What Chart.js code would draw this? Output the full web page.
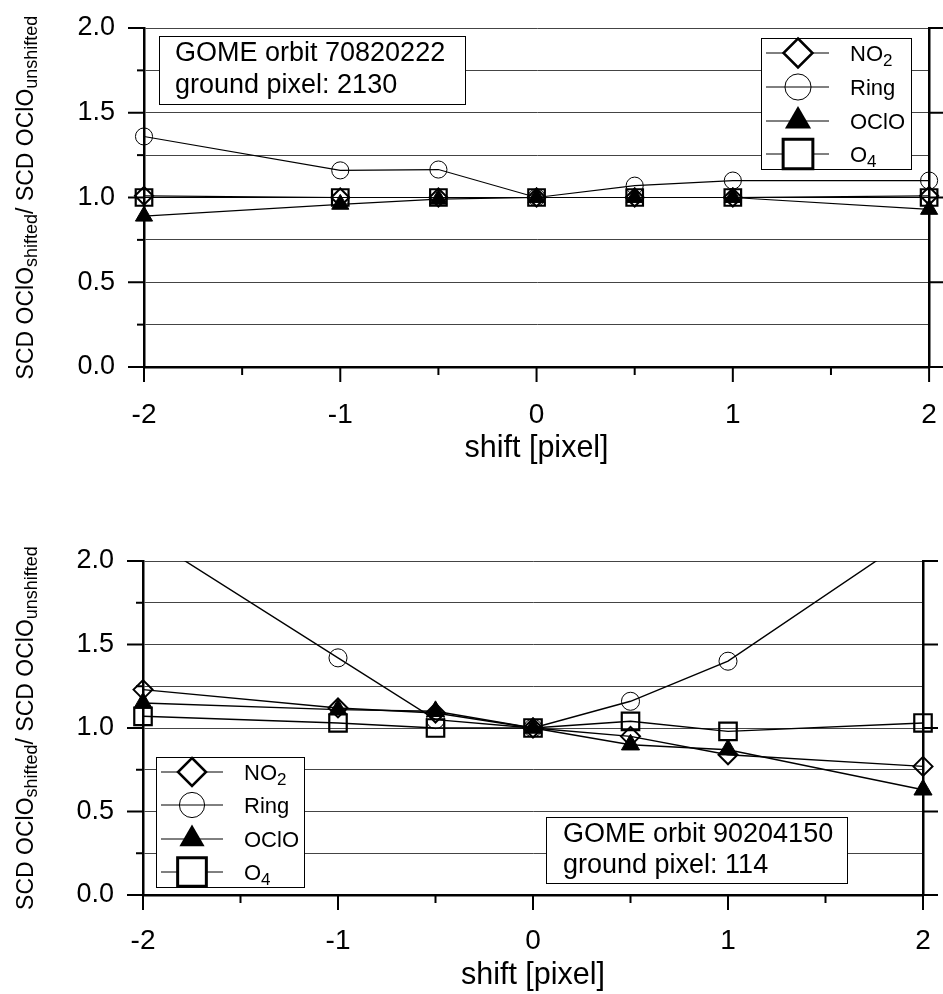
<!DOCTYPE html>
<html>
<head>
<meta charset="utf-8">
<script src="https://cdn.jsdelivr.net/npm/chart.js@4.4.1/dist/chart.umd.min.js"></script>
<style>
  html, body { margin: 0; padding: 0; background: #fff; }
  canvas { position: absolute; left: 0; }
  #topChart { top: 0; }
  #bottomChart { top: 470px; }
</style>
</head>
<body>
<canvas id="topChart" width="943" height="470"></canvas>
<canvas id="bottomChart" width="943" height="524"></canvas>
<script>
// shift of the spectrum in detector pixels
const shifts = [-2, -1, -0.5, 0, 0.5, 1, 2];

// tick positions / labels
const xMajor = [-2, -1, 0, 1, 2];
const xMinor = [-1.5, -0.5, 0.5, 1.5];
const yMajor = [0, 0.5, 1, 1.5, 2];
const yMinor = [0.25, 0.75, 1.25, 1.75];

// orbit 70820222, ground pixel 2130
const no2Top  = [1.01, 1.00, 1.00, 1.00, 1.00, 1.00, 1.01];
const ringTop = [1.36, 1.16, 1.165, 1.00, 1.07, 1.10, 1.10];
const ocloTop = [0.89, 0.96, 0.99, 1.00, 1.00, 1.00, 0.93];
const o4Top   = [1.00, 1.00, 1.00, 1.00, 1.00, 1.00, 1.00];

// orbit 90204150, ground pixel 114
const no2Bot  = [1.23, 1.12, 1.09, 1.00, 0.95, 0.84, 0.77];
const ringBot = [2.16, 1.42, 1.05, 1.00, 1.16, 1.40, 2.19];
const ocloBot = [1.15, 1.11, 1.10, 1.00, 0.90, 0.87, 0.63];
const o4Bot   = [1.07, 1.03, 1.00, 1.00, 1.04, 0.98, 1.03];

const FONT = "'Liberation Sans', Arial, Helvetica, sans-serif";
const CLEAR = 'rgba(0,0,0,0)';

function markerPath(ctx, style, x, y, r) {
  ctx.beginPath();
  if (style === 'rectRot') {
    ctx.moveTo(x, y - r); ctx.lineTo(x + r, y); ctx.lineTo(x, y + r); ctx.lineTo(x - r, y);
    ctx.closePath();
  } else if (style === 'circle') {
    ctx.arc(x, y, r, 0, Math.PI * 2);
  } else if (style === 'triangle') {
    ctx.moveTo(x, y - r);
    ctx.lineTo(x + r * 0.866, y + r / 2);
    ctx.lineTo(x - r * 0.866, y + r / 2);
    ctx.closePath();
  } else {
    const h = r * Math.SQRT1_2;
    ctx.rect(x - h, y - h, 2 * h, 2 * h);
  }
}

// text pieces: [string, isSubscript]
function drawPieces(ctx, pieces, x, y, size, subSize, subDrop) {
  let cx = x;
  for (const [s, sub] of pieces) {
    ctx.font = (sub ? subSize : size) + 'px ' + FONT;
    ctx.fillText(s, cx, y + (sub ? subDrop : 0));
    cx += ctx.measureText(s).width;
  }
  return cx - x;
}
function piecesWidth(ctx, pieces, size, subSize) {
  let w = 0;
  for (const [s, sub] of pieces) {
    ctx.font = (sub ? subSize : size) + 'px ' + FONT;
    w += ctx.measureText(s).width;
  }
  return w;
}

const yTitle = [['SCD OClO', false], ['shifted', true], ['/ SCD OClO', false], ['unshifted', true]];
const legendRows = [
  { text: [['NO', false], ['2', true]], style: 'rectRot', fill: '#fff', lw: 2.5, k: 1.0 },
  { text: [['Ring', false]], style: 'circle', fill: null, lw: 1, k: 0.9 },
  { text: [['OClO', false]], style: 'triangle', fill: '#000', lw: 1, k: 1.04 },
  { text: [['O', false], ['4', true]], style: 'rect', fill: '#fff', lw: 3, k: 1.45 }
];

const decorations = {
  id: 'decorations',
  afterDraw(chart, args, o) {
    const { ctx, chartArea: a, scales: { x, y } } = chart;
    ctx.save();
    ctx.strokeStyle = '#000';
    ctx.fillStyle = '#000';

    // axis tick marks
    ctx.lineWidth = 2;
    const line = (x1, y1, x2, y2) => { ctx.beginPath(); ctx.moveTo(x1, y1); ctx.lineTo(x2, y2); ctx.stroke(); };
    yMajor.forEach(v => {
      const py = y.getPixelForValue(v);
      line(a.left - 16, py, a.left, py);
      line(a.right, py, a.right + 15, py);
    });
    yMinor.forEach(v => {
      const py = y.getPixelForValue(v);
      line(a.left - 7, py, a.left, py);
    });
    xMajor.forEach(v => {
      const px = x.getPixelForValue(v);
      line(px, a.bottom, px, a.bottom + 15);
    });
    xMinor.forEach(v => {
      const px = x.getPixelForValue(v);
      line(px, a.bottom, px, a.bottom + 8);
    });

    // rotated y title with subscripts
    ctx.save();
    ctx.translate(33, (a.top + a.bottom) / 2);
    ctx.rotate(-Math.PI / 2);
    ctx.textBaseline = 'alphabetic';
    const tw = piecesWidth(ctx, yTitle, 23, 18);
    drawPieces(ctx, yTitle, -tw / 2, 0, 23, 18, 4);
    ctx.restore();

    // legend box
    const L = o.legend;
    ctx.lineWidth = 1;
    ctx.fillStyle = '#fff';
    ctx.fillRect(L.x1, L.y1, L.x2 - L.x1, L.y2 - L.y1);
    ctx.strokeRect(L.x1 + 0.5, L.y1 + 0.5, L.x2 - L.x1, L.y2 - L.y1);
    legendRows.forEach((row, i) => {
      const ry = L.rows[i];
      ctx.lineWidth = 1;
      line(L.lineX1, ry, L.lineX2, ry);
      markerPath(ctx, row.style, L.markX, ry, L.r * row.k);
      if (row.fill) { ctx.fillStyle = row.fill; ctx.fill(); }
      if (row.style !== 'triangle') { ctx.lineWidth = row.lw; ctx.stroke(); }
      ctx.fillStyle = '#000';
      drawPieces(ctx, row.text, L.textX, ry + 8, 22, 17, 5);
    });

    // orbit annotation
    const N = o.note;
    ctx.lineWidth = 1;
    ctx.fillStyle = '#fff';
    ctx.fillRect(N.x1, N.y1, N.x2 - N.x1, N.y2 - N.y1);
    ctx.strokeRect(N.x1 + 0.5, N.y1 + 0.5, N.x2 - N.x1, N.y2 - N.y1);
    ctx.fillStyle = '#000';
    ctx.font = '27px ' + FONT;
    N.lines.forEach((t, i) => ctx.fillText(t, N.textX, N.base[i]));

    ctx.restore();
  }
};

function makeChart(id, series, cfg) {
  const looks = [
    { label: 'NO2',  pointStyle: 'rectRot',  radius: cfg.r,        bw: 2,   fill: CLEAR },
    { label: 'Ring', pointStyle: 'circle',   radius: cfg.r * 0.95, bw: 1,   fill: CLEAR },
    { label: 'OClO', pointStyle: 'triangle', radius: cfg.r * 1.1,  bw: 1,   fill: '#000' },
    { label: 'O4',   pointStyle: 'rect',     radius: cfg.r * 1.3,  bw: 2.2, fill: CLEAR }
  ];
  return new Chart(document.getElementById(id), {
    type: 'line',
    data: {
      datasets: looks.map((s, k) => ({
        label: s.label,
        data: shifts.map((sx, i) => ({ x: sx, y: series[k][i] })),
        borderColor: '#000',
        borderWidth: cfg.lw,
        pointStyle: s.pointStyle,
        pointRadius: s.radius,
        pointBorderWidth: s.bw,
        pointBorderColor: '#000',
        pointBackgroundColor: s.fill,
        tension: 0,
        clip: { left: 20, right: 20, top: 0, bottom: 20 }
      }))
    },
    options: {
      responsive: false,
      animation: false,
      events: [],
      layout: { padding: { top: cfg.padTop, left: 0, right: 0, bottom: 0 } },
      plugins: {
        legend: { display: false },
        tooltip: { enabled: false },
        decorations: { legend: cfg.legend, note: cfg.note }
      },
      scales: {
        x: {
          type: 'linear', min: -2, max: 2,
          afterBuildTicks: s => { s.ticks = xMajor.map(v => ({ value: v })); },
          ticks: { font: { family: FONT, size: 28 }, color: '#000', padding: 0,
                   autoSkip: false, maxRotation: 0, callback: v => String(v) },
          // invisible tick marks only push the labels down; real marks come from the plugin
          grid: { display: true, drawOnChartArea: false, drawTicks: true,
                  tickLength: cfg.xPad, tickColor: CLEAR, color: CLEAR },
          border: { display: true, width: 2.5, color: '#000' },
          title: { display: true, text: 'shift [pixel]', color: '#000',
                   font: { family: FONT, size: 30.5 }, padding: { top: 0, bottom: cfg.titlePad } },
          afterFit: s => { s.height = cfg.xHeight; }
        },
        y: {
          type: 'linear', position: 'left', min: 0, max: 2,
          afterBuildTicks: s => {
            s.ticks = yMajor.concat(yMinor).sort((p, q) => p - q).map(v => ({ value: v }));
          },
          ticks: { font: { family: FONT, size: 27 }, color: '#000', padding: 0, autoSkip: false,
                   callback: v => yMajor.includes(v) ? v.toFixed(1) : '' },
          grid: { display: true, drawOnChartArea: true, drawTicks: true, tickLength: 29,
                  tickColor: CLEAR, color: '#444', lineWidth: 1 },
          border: { display: true, width: 2.5, color: '#000' },
          afterFit: s => { s.width = cfg.yWidth; }
        },
        y2: {
          type: 'linear', position: 'right', min: 0, max: 2,
          ticks: { display: false },
          grid: { display: false, drawTicks: false },
          border: { display: true, width: 2.5, color: '#000' },
          afterFit: s => { s.width = cfg.rightWidth; }
        }
      }
    },
    plugins: [decorations]
  });
}

makeChart('topChart', [no2Top, ringTop, ocloTop, o4Top], {
  padTop: 28, yWidth: 144, rightWidth: 9, xHeight: 103, xPad: 31, titlePad: 3,
  r: 9, lw: 1.2,
  legend: { x1: 761, y1: 38, x2: 911, y2: 169, rows: [53, 87, 121, 154],
            lineX1: 766, lineX2: 829, markX: 798, textX: 850, r: 14.5 },
  note: { x1: 159, y1: 36, x2: 465, y2: 104, textX: 175, base: [61, 93],
          lines: ['GOME orbit 70820222', 'ground pixel: 2130'] }
});

makeChart('bottomChart', [no2Bot, ringBot, ocloBot, o4Bot], {
  padTop: 91, yWidth: 143, rightWidth: 20, xHeight: 99, xPad: 29, titlePad: 0,
  r: 9.5, lw: 1.4,
  legend: { x1: 156, y1: 287, x2: 304, y2: 417, rows: [302, 335, 369, 402],
            lineX1: 161, lineX2: 223, markX: 192, textX: 244, r: 14 },
  note: { x1: 546, y1: 347, x2: 847, y2: 413, textX: 563, base: [372, 403],
          lines: ['GOME orbit 90204150', 'ground pixel: 114'] }
});
</script>
</body>
</html>
